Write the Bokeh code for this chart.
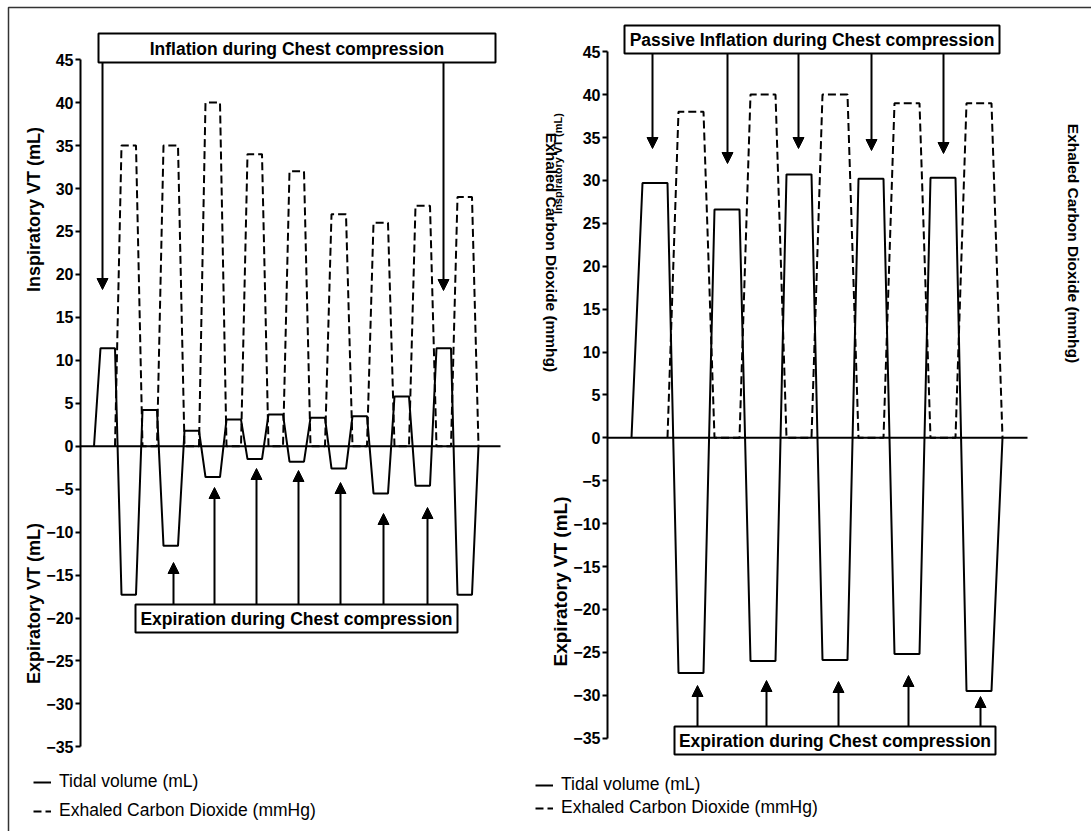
import numpy as np
from bokeh.plotting import figure
from bokeh.models import (Range1d, LinearAxis, FixedTicker, Arrow, NormalHead,
                          Legend, LegendItem, ColumnDataSource, Grid)
from bokeh.core.properties import value
from bokeh.embed import file_html
from bokeh.resources import INLINE

# ---------------- data ----------------
# tidal volume plateaus (mL), alternating inspiration (+) / expiration (-)
left_tidal_volume = [11.4, -17.3, 4.2, -11.6, 1.8, -3.6, 3.1, -1.5, 3.7, -1.8,
                     3.3, -2.6, 3.5, -5.5, 5.8, -4.6, 11.4, -17.3]
# exhaled CO2 plateaus (mmHg), one per expiration
left_exhaled_co2 = [35, 35, 40, 34, 32, 27, 26, 28, 29]

right_tidal_volume = [29.7, -27.4, 26.6, -26.0, 30.7, -25.9, 30.2, -25.2, 30.3, -29.5]
right_exhaled_co2 = [38, 40, 40, 39, 39]

tick_values = list(range(-35, 50, 5))

left_box_top = "Inflation during Chest compression"
left_box_bottom = "Expiration during Chest compression"
right_box_top = "Passive Inflation during Chest compression"
right_box_bottom = "Expiration during Chest compression"
legend_labels = ["Tidal volume (mL)", "Exhaled Carbon Dioxide (mmHg)"]
inspiratory_label = "Inspiratory VT (mL)"
expiratory_label = "Expiratory VT (mL)"
co2_axis_label = "Exhaled Carbon Dioxide (mmhg)"

# ---------------- layout (canvas pixels) ----------------
W, H = 1091, 831
FONT = "Liberation Sans"
LEFT = dict(axis_x=80, zero_px=445.7, ppu=8.59, t0=100, plateau=14.5, ramp=6.5, base_end=500)
RIGHT = dict(axis_x=607, zero_px=437.3, ppu=8.58, t0=642, plateau=25, ramp=11, base_end=1027)


def yrange(cfg):
    return Range1d(start=-(H - cfg["zero_px"]) / cfg["ppu"], end=cfg["zero_px"] / cfg["ppu"])


def tidal_wave(values, cfg):
    step = cfg["plateau"] + cfg["ramp"]
    xs, ys = [cfg["t0"] - cfg["ramp"]], [0]
    for i, v in enumerate(values):
        s = cfg["t0"] + i * step
        xs += [s, s + cfg["plateau"]]
        ys += [v, v]
    xs.append(xs[-1] + cfg["ramp"])
    ys.append(0)
    return xs, ys


def co2_wave(values, cfg):
    step = cfg["plateau"] + cfg["ramp"]
    xs, ys = [], []
    for j, v in enumerate(values):
        s = cfg["t0"] + (2 * j + 1) * step
        xs += [s - cfg["ramp"], s, s + cfg["plateau"], s + cfg["plateau"] + cfg["ramp"]]
        ys += [0, v, v, 0]
    return xs, ys


p = figure(width=W, height=H, x_range=Range1d(0, W), y_range=yrange(LEFT),
           min_border=0, toolbar_location=None, output_backend="svg",
           x_axis_location=None, y_axis_location=None)
p.outline_line_color = None
p.background_fill_color = "white"
p.border_fill_color = "white"
p.extra_y_ranges = {"right": yrange(RIGHT), "px": Range1d(start=H, end=0)}
for g in p.select(type=Grid):
    g.visible = False
p.xgrid.grid_line_color = None
p.ygrid.grid_line_color = None


def make_axis(cfg, range_name):
    kw = dict(fixed_location=cfg["axis_x"], bounds=(-35, 45),
              ticker=FixedTicker(ticks=tick_values),
              major_tick_out=5, major_tick_in=0, minor_tick_out=0, minor_tick_in=0,
              axis_line_width=2, axis_line_color="black",
              major_tick_line_width=2, major_tick_line_color="black",
              major_label_text_font=FONT, major_label_text_font_style="bold",
              major_label_text_font_size="16px", major_label_text_color="black",
              major_label_standoff=2)
    if range_name:
        kw["y_range_name"] = range_name
    ax = LinearAxis(**kw)
    p.add_layout(ax, "left")


make_axis(LEFT, None)
make_axis(RIGHT, "right")

# frame lines
p.line([8, 8, W], [H, 7, 7], y_range_name="px", line_width=1.5, line_color="#333333")

# zero lines
p.line([LEFT["axis_x"], LEFT["base_end"]], [0, 0], line_width=2, line_color="black")
p.line([RIGHT["axis_x"], RIGHT["base_end"]], [0, 0], y_range_name="right", line_width=2, line_color="black")

# waveforms
lx, ly = co2_wave(left_exhaled_co2, LEFT)
l_co2 = p.line(lx, ly, line_width=2, line_color="black", line_dash="8 4")
lx, ly = tidal_wave(left_tidal_volume, LEFT)
l_tv = p.line(lx, ly, line_width=2, line_color="black")

rx, ry = co2_wave(right_exhaled_co2, RIGHT)
r_co2 = p.line(rx, ry, y_range_name="right", line_width=2, line_color="black", line_dash="8 4")
rx, ry = tidal_wave(right_tidal_volume, RIGHT)
r_tv = p.line(rx, ry, y_range_name="right", line_width=2, line_color="black")


# annotation arrows (canvas px)
def add_arrows(xs, y0, y1s):
    src = ColumnDataSource(dict(x=xs, y0=[y0] * len(xs), y1=y1s))
    p.add_layout(Arrow(source=src, x_start="x", y_start="y0", x_end="x", y_end="y1",
                       y_range_name="px", line_width=2, line_color="black",
                       end=NormalHead(size=11, fill_color="black", line_color="black", line_width=1)))


add_arrows([102, 443], 62, [289, 290])
add_arrows([173, 214, 256, 298, 340, 383, 427], 604, [562, 487, 468, 470, 482, 513, 507])
add_arrows([652, 727, 798, 871, 943], 53, [148, 163, 148, 150, 153])
add_arrows([697, 766, 838, 908, 980], 726, [685, 680, 681, 675, 696])

# boxes with captions
boxes = dict(left=[98, 135, 624, 674], right=[495, 457, 999, 995],
             top=[33, 604, 25, 726], bottom=[62, 632, 53, 754])
p.quad(left="left", right="right", top="top", bottom="bottom", source=ColumnDataSource(boxes),
       y_range_name="px", fill_color="white", line_color="black", line_width=2)
cap = ColumnDataSource(dict(
    x=[(a + b) / 2 for a, b in zip(boxes["left"], boxes["right"])],
    y=[(a + b) / 2 + 0.5 for a, b in zip(boxes["top"], boxes["bottom"])],
    t=[left_box_top, left_box_bottom, right_box_top, right_box_bottom]))
p.text(x="x", y="y", text="t", source=cap, y_range_name="px",
       text_font=value(FONT), text_font_style="bold", text_font_size="17.5px",
       text_align="center", text_baseline="middle", text_color="black")


def label(x, y, txt, angle, size, font=FONT):
    p.text(x=[x], y=[y], text=[txt], y_range_name="px", angle=angle,
           text_font=value(font), text_font_style="bold", text_font_size=size,
           text_align="center", text_baseline="middle", text_color="black")


label(33, 209, inspiratory_label, np.pi / 2, "18px")
label(33, 603, expiratory_label, np.pi / 2, "18px")
label(560, 581, expiratory_label, np.pi / 2, "19px")
label(551, 252, co2_axis_label, -np.pi / 2, "15.5px")
label(557, 163, inspiratory_label, np.pi / 2, "11px")
label(1073, 243, co2_axis_label, -np.pi / 2, "15.5px")


# legends
def add_legend(tv, co2, loc, spacing):
    lg = Legend(items=[LegendItem(label=legend_labels[0], renderers=[tv]),
                       LegendItem(label=legend_labels[1], renderers=[co2])],
                location=loc, orientation="vertical",
                border_line_color=None, background_fill_alpha=0,
                padding=0, margin=0, spacing=spacing,
                glyph_width=18, glyph_height=20, label_height=20, label_standoff=8,
                label_text_font=FONT, label_text_font_size="17.5px", label_text_color="black")
    p.add_layout(lg)


add_legend(l_tv, l_co2, (33, 10), 8)
add_legend(r_tv, r_co2, (535, 13), 2)

open("out.html", "w").write(file_html(p, INLINE))
